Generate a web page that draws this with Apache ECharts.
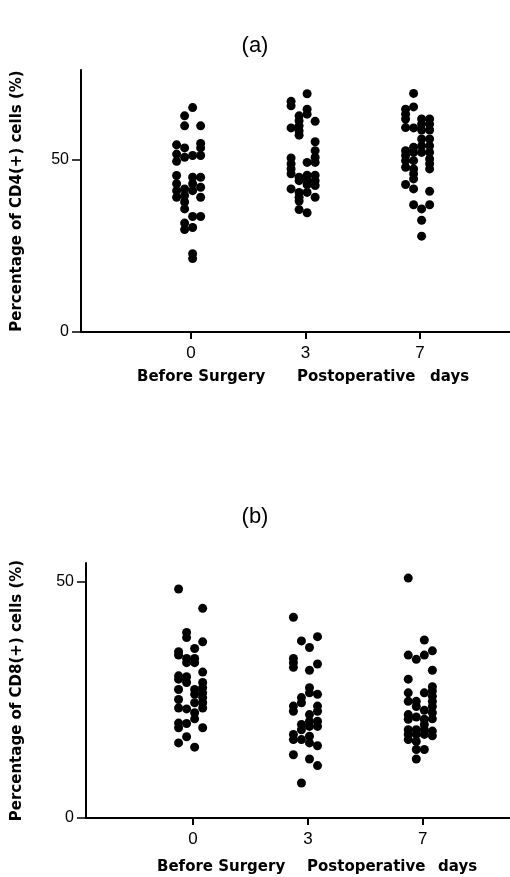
<!DOCTYPE html>
<html>
<head>
<meta charset="utf-8">
<script src="https://cdn.jsdelivr.net/npm/echarts@6/dist/echarts.min.js"></script>
<style>
  html, body { margin: 0; padding: 0; background: #fff; }
  #chart { width: 510px; height: 877px; }
</style>
</head>
<body>
<div id="chart"></div>
<script>
// tick labels under each group
const dayLabels = ['0', '3', '7']

// each point: [value, lane]  (lane = which jitter column, 0..3)
const cd4Day0 = [
  [65.1, 2], [62.7, 1], [59.8, 1], [59.8, 3], [54.7, 3], [54.3, 0], [53.4, 1], [53.4, 3],
  [51.6, 0], [51.2, 2], [51.2, 3], [50.7, 1], [49.5, 0], [45.4, 0], [44.9, 2], [44.9, 3],
  [43.0, 0], [43.0, 2], [42.0, 3], [41.5, 1], [41.0, 0], [41.0, 2], [39.6, 1], [39.1, 0],
  [39.1, 3], [37.7, 1], [35.7, 1], [33.5, 2], [33.5, 3], [31.6, 1], [29.7, 1], [30.3, 2],
  [22.7, 2], [21.3, 2]
]
const cd4Day3 = [
  [69.1, 2], [66.9, 0], [65.6, 0], [64.6, 2], [63.2, 2], [62.7, 1], [61.3, 1], [59.8, 1],
  [58.4, 1], [57.1, 1], [59.2, 0], [61.1, 3], [55.2, 3], [52.6, 3], [50.7, 3], [49.2, 3],
  [49.2, 2], [50.5, 0], [48.8, 0], [47.3, 0], [45.9, 0], [44.9, 1], [43.9, 1], [45.5, 2],
  [44.1, 2], [42.7, 2], [45.5, 3], [43.9, 3], [42.5, 3], [41.5, 0], [40.5, 1], [39.1, 1],
  [38.0, 1], [40.5, 2], [39.1, 3], [35.5, 1], [34.6, 2]
]
const cd4Day7 = [
  [69.2, 1], [65.3, 1], [64.6, 0], [63.2, 0], [61.8, 0], [59.3, 0], [59.2, 1], [61.8, 2],
  [61.8, 3], [60.3, 2], [60.3, 3], [58.6, 2], [58.6, 3], [56.0, 2], [56.0, 3], [54.0, 2],
  [54.0, 3], [52.1, 2], [52.1, 3], [50.2, 3], [48.8, 3], [47.3, 3], [53.6, 1], [52.1, 1],
  [52.6, 0], [51.2, 0], [49.7, 0], [47.8, 0], [49.7, 1], [47.3, 1], [45.9, 1], [44.4, 1],
  [42.8, 0], [41.5, 1], [40.8, 3], [36.9, 1], [35.7, 2], [36.9, 3], [32.4, 2], [27.8, 2]
]

const cd8Day0 = [
  [48.5, 0], [44.4, 3], [39.3, 1], [38.2, 1], [37.3, 3], [35.9, 2], [35.2, 0], [34.5, 0],
  [33.8, 1], [32.9, 1], [33.8, 2], [32.9, 2], [30.9, 3], [30.1, 0], [29.4, 0], [29.9, 1],
  [28.7, 1], [28.7, 3], [27.6, 3], [26.5, 3], [25.5, 3], [24.4, 3], [23.3, 3], [27.2, 2],
  [26.2, 2], [24.4, 2], [27.2, 0], [25.1, 0], [23.3, 0], [23.1, 1], [22.3, 2], [21.0, 2],
  [20.1, 0], [19.1, 0], [20.0, 1], [19.1, 3], [17.2, 1], [15.9, 0], [15.0, 2]
]
const cd8Day3 = [
  [42.5, 0], [37.5, 1], [38.4, 3], [36.1, 2], [33.8, 0], [32.9, 0], [31.9, 0], [32.6, 3],
  [31.3, 2], [27.6, 2], [26.5, 2], [26.2, 3], [25.5, 1], [24.4, 1], [23.7, 0], [22.6, 0],
  [23.7, 3], [22.6, 3], [21.9, 2], [20.5, 2], [19.4, 2], [20.5, 3], [19.4, 3], [19.8, 1],
  [18.7, 1], [17.7, 0], [16.6, 0], [16.6, 1], [17.3, 2], [15.9, 2], [15.3, 3], [13.4, 0],
  [12.5, 2], [11.1, 3], [7.4, 1]
]
const cd8Day7 = [
  [50.8, 0], [37.7, 2], [34.5, 0], [33.6, 1], [34.5, 2], [35.4, 3], [31.3, 3], [29.4, 0],
  [27.8, 3], [26.9, 3], [25.8, 3], [24.7, 3], [23.6, 3], [22.3, 3], [21.0, 3], [18.4, 3],
  [17.4, 3], [26.5, 2], [26.5, 0], [24.7, 0], [24.7, 1], [23.6, 1], [22.8, 2], [21.9, 0],
  [20.9, 0], [21.4, 1], [20.9, 2], [19.8, 2], [18.7, 2], [17.7, 2], [18.7, 0], [17.7, 0],
  [16.6, 0], [18.7, 1], [17.7, 1], [16.2, 1], [14.5, 1], [14.5, 2], [12.5, 1]
]

const LANE_STEP = 0.07
const FONT = 'DejaVu Sans'
const TICK_FONT = 'Liberation Sans'

// turn [value, lane] into [x, value] around group index g
function toPoints(arr, g) {
  return arr.map(p => [g + (p[1] - 1.8) * LANE_STEP, p[0]])
}

function xAxisFor(gridIndex, min, max) {
  return {
    type: 'value', gridIndex: gridIndex, min: min, max: max,
    splitLine: { show: false },
    axisLine: { onZero: false, lineStyle: { color: '#000', width: 2 } },
    axisTick: { customValues: [0, 1, 2], length: 7, lineStyle: { color: '#000', width: 2 } },
    axisLabel: {
      customValues: [0, 1, 2], margin: 13,
      formatter: v => dayLabels[Math.round(v)],
      color: '#000', fontFamily: TICK_FONT, fontSize: 17
    }
  }
}

function yAxisFor(gridIndex, max, name, gap) {
  return {
    type: 'value', gridIndex: gridIndex, min: 0, max: max,
    splitLine: { show: false },
    axisLine: { onZero: false, lineStyle: { color: '#000', width: 2 } },
    axisTick: { customValues: [0, 50], length: 9, lineStyle: { color: '#000', width: 1.5 } },
    axisLabel: {
      customValues: [0, 50], margin: 12,
      color: '#000', fontFamily: TICK_FONT, fontSize: 16
    },
    name: name, nameLocation: 'middle', nameGap: gap,
    nameTextStyle: { color: '#000', fontFamily: FONT, fontWeight: 'bold', fontSize: 15 }
  }
}

function dots(arr, g, axisIndex) {
  return {
    type: 'scatter', xAxisIndex: axisIndex, yAxisIndex: axisIndex,
    data: toPoints(arr, g), symbolSize: 9,
    itemStyle: { color: '#000', opacity: 1 }, silent: true
  }
}

function caption(text, x, y) {
  return {
    type: 'text', x: x, y: y,
    style: { text: text, fill: '#000', font: 'bold 15px "' + FONT + '"', textAlign: 'left', textVerticalAlign: 'middle' }
  }
}

const chart = echarts.init(document.getElementById('chart'), null, { renderer: 'canvas' })

chart.setOption({
  animation: false,
  backgroundColor: '#fff',
  title: [
    { text: '(a)', left: 'center', top: 30, textStyle: { fontFamily: TICK_FONT, fontWeight: 'normal', fontSize: 22, color: '#000' } },
    { text: '(b)', left: 'center', top: 501, textStyle: { fontFamily: TICK_FONT, fontWeight: 'normal', fontSize: 22, color: '#000' } }
  ],
  grid: [
    { left: 81, top: 70, width: 429, height: 262 },
    { left: 86, top: 563, width: 424, height: 255 }
  ],
  xAxis: [
    xAxisFor(0, -0.961, 2.786),
    xAxisFor(1, -0.932, 2.76)
  ],
  yAxis: [
    yAxisFor(0, 76, 'Percentage of CD4(+) cells (%)', 56),
    yAxisFor(1, 54, 'Percentage of CD8(+) cells (%)', 61)
  ],
  series: [
    dots(cd4Day0, 0, 0), dots(cd4Day3, 1, 0), dots(cd4Day7, 2, 0),
    dots(cd8Day0, 0, 1), dots(cd8Day3, 1, 1), dots(cd8Day7, 2, 1)
  ],
  graphic: [
    caption('Before Surgery', 137, 377),
    caption('Postoperative', 297, 377),
    caption('days', 430, 377),
    caption('Before Surgery', 157, 867),
    caption('Postoperative', 307, 867),
    caption('days', 438, 867)
  ]
})
</script>
</body>
</html>
